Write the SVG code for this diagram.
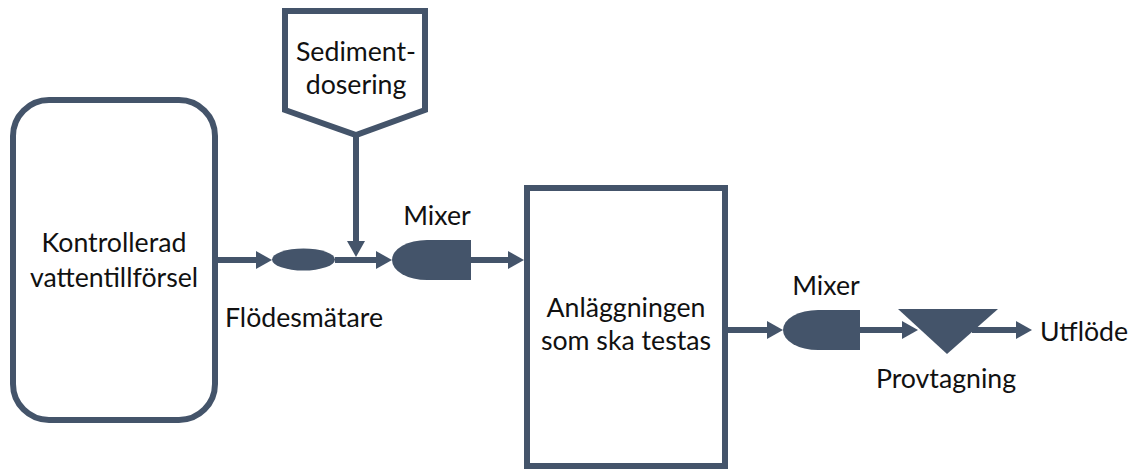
<svg xmlns="http://www.w3.org/2000/svg" width="1137" height="470" viewBox="0 0 1137 470">
  <defs>
    <style>
      .frame { fill: #ffffff; stroke: #44546A; stroke-width: 6; }
      .solid { fill: #44546A; stroke: none; }
      .conn { fill: none; stroke: #44546A; stroke-width: 6; }
      .lbl { font-family: Lato, "Open Sans", "Liberation Sans", sans-serif; font-size: 26.7px; fill: #111111; }
      .mid { text-anchor: middle; }
    </style>
    <marker id="arrow" markerUnits="userSpaceOnUse" markerWidth="18" markerHeight="20" refX="6" refY="9" orient="auto">
      <path d="M0,0 L16,9 L0,18 z" fill="#44546A"/>
    </marker>
  </defs>
  <rect width="1137" height="470" fill="#ffffff"/>

  <g id="supply">
    <rect class="frame" x="13" y="100" width="202" height="320" rx="36" ry="36"/>
    <text class="lbl mid" x="114" y="252">Kontrollerad</text>
    <text class="lbl mid" x="114" y="287">vattentillförsel</text>
  </g>

  <g id="sediment">
    <path class="frame" d="M285,11 L425,11 L425,110 L356,135 L285,110 Z"/>
    <text class="lbl mid" x="356" y="61">Sediment-</text>
    <text class="lbl mid" x="356" y="94">dosering</text>
  </g>

  <g id="flowmeter">
    <ellipse class="solid" cx="303.5" cy="259.5" rx="31.5" ry="11"/>
    <text class="lbl mid" x="304" y="327">Flödesmätare</text>
  </g>

  <g id="mixer1">
    <path class="solid" d="M427,240 L471,240 L471,280 L427,280 A35,20 0 0 1 427,240 Z"/>
    <text class="lbl mid" x="437" y="225">Mixer</text>
  </g>

  <g id="plant">
    <rect class="frame" x="527" y="188" width="198" height="278"/>
    <text class="lbl mid" x="626" y="317">Anläggningen</text>
    <text class="lbl mid" x="626" y="350">som ska testas</text>
  </g>

  <g id="mixer2">
    <path class="solid" d="M818,310 L860,310 L860,350 L818,350 A35,20 0 0 1 818,310 Z"/>
    <text class="lbl mid" x="826" y="295">Mixer</text>
  </g>

  <g id="sampling">
    <path class="solid" d="M898,309 L998,309 L947,354 Z"/>
    <text class="lbl mid" x="946" y="388">Provtagning</text>
  </g>

  <g id="outflow">
    <text class="lbl" x="1040" y="341">Utflöde</text>
  </g>

  <g id="connectors">
    <line class="conn" x1="218" y1="260" x2="262" y2="260" marker-end="url(#arrow)"/>
    <line class="conn" x1="335" y1="260" x2="382" y2="260" marker-end="url(#arrow)"/>
    <line class="conn" x1="356" y1="137" x2="356" y2="247" marker-end="url(#arrow)"/>
    <line class="conn" x1="471" y1="260" x2="514" y2="260" marker-end="url(#arrow)"/>
    <line class="conn" x1="728" y1="330" x2="773" y2="330" marker-end="url(#arrow)"/>
    <line class="conn" x1="860" y1="330" x2="908" y2="330" marker-end="url(#arrow)"/>
    <line class="conn" x1="972" y1="330" x2="1022" y2="330" marker-end="url(#arrow)"/>
  </g>
</svg>
